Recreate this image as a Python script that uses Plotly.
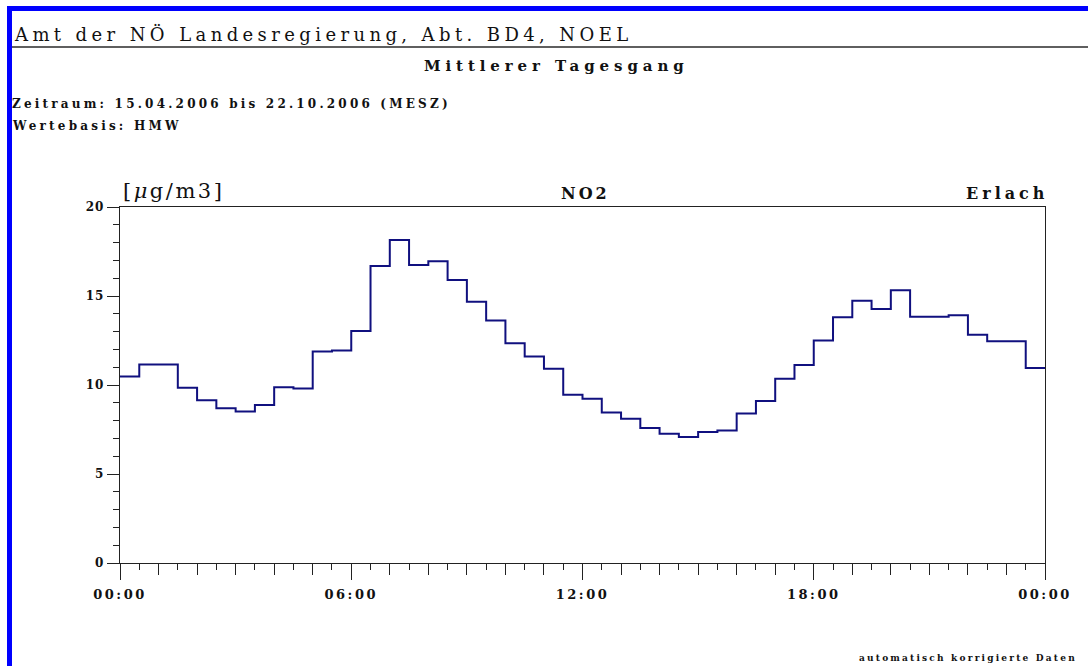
import plotly.graph_objects as go

# Mean diurnal cycle of NO2 (half-hourly means, µg/m3), station Erlach
half_hour_values = [
    10.48, 11.15, 11.15, 9.85, 9.15, 8.70, 8.51, 8.87,
    9.88, 9.80, 11.88, 11.94, 13.04, 16.69, 18.14, 16.74,
    16.95, 15.90, 14.67, 13.62, 12.35, 11.60, 10.91, 9.45,
    9.23, 8.46, 8.10, 7.58, 7.26, 7.08, 7.36, 7.45,
    8.40, 9.10, 10.35, 11.13, 12.50, 13.81, 14.74, 14.27,
    15.32, 13.84, 13.84, 13.92, 12.82, 12.46, 12.46, 10.95,
]
hour_tick_vals = [0, 6, 12, 18, 24]
hour_tick_text = ["00:00", "06:00", "12:00", "18:00", "00:00"]
y_tick_vals = [0, 5, 10, 15, 20]

W, H = 1088, 666
PL, PR, PT, PB = 120, 1045, 207, 563  # plot area in pixels

INK = "#222222"
TEXT = "#111111"
LINE = "#10107f"
SERIF = "DejaVu Serif"


def px(x):
    return (x - PL) / (PR - PL)


def py(y):
    return (PB - y) / (PB - PT)


def spaced(text, ls):
    return f'<span style="letter-spacing:{ls}px">{text}</span>'


# step positions: start of each half hour, closed at 24:00
xs = [i * 0.5 for i in range(len(half_hour_values))] + [24]
ys = half_hour_values + [half_hour_values[-1]]

fig = go.Figure()
fig.add_trace(go.Scatter(
    x=xs, y=ys, mode="lines", line=dict(shape="hv", color=LINE, width=2),
    hoverinfo="skip", showlegend=False,
))
# helper trace so the hourly tick axis is drawn
fig.add_trace(go.Scatter(
    x=[0, 24], y=[0, 0], xaxis="x2", mode="lines",
    line=dict(width=0), hoverinfo="skip", showlegend=False,
))

fig.update_layout(
    width=W, height=H,
    margin=dict(l=PL, r=W - PR, t=PT, b=H - PB),
    paper_bgcolor="white", plot_bgcolor="white",
    xaxis=dict(
        range=[0, 24], tickmode="array", tickvals=hour_tick_vals,
        ticktext=[spaced(t, 2.5) for t in hour_tick_text],
        ticks="outside", ticklen=16, tickwidth=1.3, tickcolor=INK,
        minor=dict(dtick=0.5, tick0=0, ticks="outside", ticklen=6,
                   tickwidth=1.3, tickcolor=INK, showgrid=False),
        showgrid=False, zeroline=False, showline=True, linecolor=INK,
        linewidth=1.3, mirror=True,
        tickfont=dict(family=SERIF, size=13, color=TEXT, weight="bold"),
        ticklabelstandoff=3, fixedrange=True,
    ),
    xaxis2=dict(
        range=[0, 24], overlaying="x", anchor="y", side="bottom",
        tickmode="linear", tick0=0, dtick=1, ticks="outside", ticklen=11,
        tickwidth=1.3, tickcolor=INK, showticklabels=False, showgrid=False,
        zeroline=False, showline=False, fixedrange=True,
    ),
    yaxis=dict(
        range=[0, 20], tickmode="array", tickvals=y_tick_vals,
        ticktext=[spaced(str(v), 1) for v in y_tick_vals],
        ticks="outside", ticklen=12, tickwidth=1.3, tickcolor=INK,
        minor=dict(dtick=1, tick0=0, ticks="outside", ticklen=6,
                   tickwidth=1.3, tickcolor=INK, showgrid=False),
        showgrid=False, zeroline=False, showline=True, linecolor=INK,
        linewidth=1.3, mirror=True,
        tickfont=dict(family=SERIF, size=12, color=TEXT, weight="bold"),
        fixedrange=True,
    ),
)

annotations = [
    dict(text=spaced("Amt der NÖ Landesregierung, Abt. BD4, NOEL", 4.4),
         x=px(12), y=py(34), xanchor="left", yanchor="middle",
         font=dict(family=SERIF, size=18, color=TEXT)),
    dict(text=spaced("Mittlerer Tagesgang", 4.9),
         x=px(556), y=py(66), xanchor="center", yanchor="middle",
         font=dict(family=SERIF, size=15, color=TEXT, weight="bold")),
    dict(text=spaced("Zeitraum: 15.04.2006 bis 22.10.2006 (MESZ)", 3.2),
         x=px(10), y=py(104), xanchor="left", yanchor="middle",
         font=dict(family=SERIF, size=12, color=TEXT, weight="bold")),
    dict(text=spaced("Wertebasis: HMW", 3.2),
         x=px(10), y=py(126), xanchor="left", yanchor="middle",
         font=dict(family=SERIF, size=12, color=TEXT, weight="bold")),
    dict(text=spaced("[<i>μ</i>g/m3]", 2.5),
         x=px(121), y=py(205), xanchor="left", yanchor="bottom",
         font=dict(family=SERIF, size=21, color=TEXT)),
    dict(text=spaced("NO2", 3),
         x=px(585), y=py(205), xanchor="center", yanchor="bottom",
         font=dict(family=SERIF, size=16, color=TEXT, weight="bold")),
    dict(text=spaced("Erlach", 4),
         x=px(1050), y=py(205), xanchor="right", yanchor="bottom",
         font=dict(family=SERIF, size=16, color=TEXT, weight="bold")),
    dict(text=spaced("automatisch korrigierte Daten", 2.2),
         x=px(1079), y=py(658), xanchor="right", yanchor="middle",
         font=dict(family=SERIF, size=9, color=TEXT, weight="bold")),
]
for a in annotations:
    a.update(xref="paper", yref="paper", showarrow=False)
fig.update_layout(annotations=annotations)

# page frame: blue bars on top and left, rule under the header
shapes = [
    dict(type="rect", x0=px(7), x1=px(W), y0=py(6), y1=py(11),
         fillcolor="#0000ff", line=dict(width=0)),
    dict(type="rect", x0=px(7), x1=px(12), y0=py(6), y1=py(H),
         fillcolor="#0000ff", line=dict(width=0)),
    dict(type="line", x0=px(12), x1=px(W), y0=py(47), y1=py(47),
         line=dict(color="#2a2a2a", width=1.5)),
]
for s in shapes:
    s.update(xref="paper", yref="paper", layer="above")
fig.update_layout(shapes=shapes)

fig.write_html("out.html")
